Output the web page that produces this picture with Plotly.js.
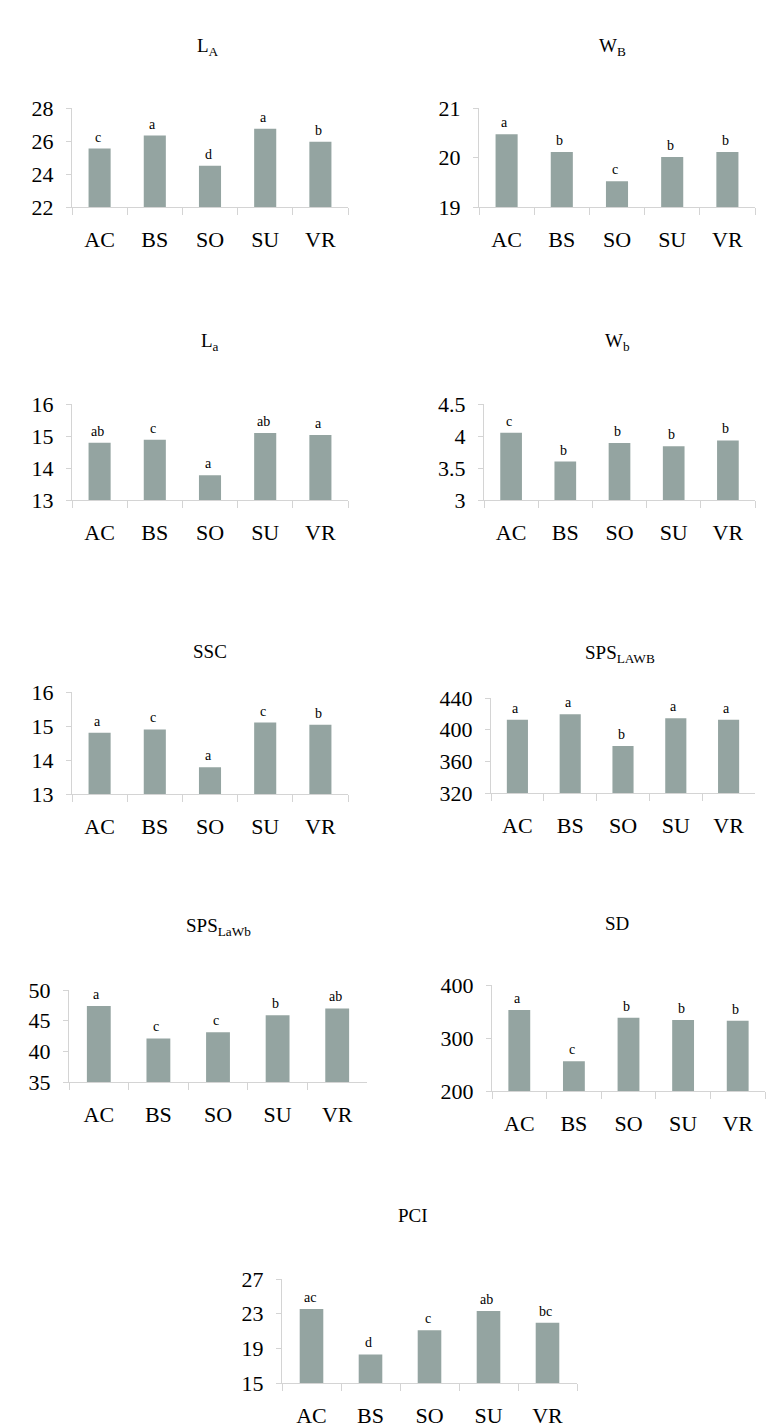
<!DOCTYPE html>
<html>
<head>
<meta charset="utf-8">
<script src="https://cdn.plot.ly/plotly-3.0.1.min.js"></script>
<style>html,body{margin:0;padding:0;background:#fff;}#chart{width:784px;height:1427px;}</style>
</head>
<body>
<div id="chart"></div>
<script>
var categories = ['AC', 'BS', 'SO', 'SU', 'VR'];

var valuesLA = [25.54, 26.33, 24.5, 26.74, 25.96];
var valuesWB = [20.47, 20.11, 19.52, 20.01, 20.11];
var valuesLa = [14.79, 14.88, 13.77, 15.09, 15.03];
var valuesWb = [4.05, 3.6, 3.89, 3.84, 3.93];
var valuesSSC = [14.8, 14.9, 13.79, 15.1, 15.04];
var valuesSPSLAWB = [412.6, 419.4, 379.4, 414.3, 412.6];
var valuesSPSLaWb = [47.4, 42.1, 43.1, 45.9, 47.0];
var valuesSD = [352.7, 256, 338, 334, 332.5];
var valuesPCI = [23.54, 18.3, 21.08, 23.3, 21.96];

var lettersLA = ['c', 'a', 'd', 'a', 'b'];
var lettersWB = ['a', 'b', 'c', 'b', 'b'];
var lettersLa = ['ab', 'c', 'a', 'ab', 'a'];
var lettersWb = ['c', 'b', 'b', 'b', 'b'];
var lettersSSC = ['a', 'c', 'a', 'c', 'b'];
var lettersSPSLAWB = ['a', 'a', 'b', 'a', 'a'];
var lettersSPSLaWb = ['a', 'c', 'c', 'b', 'ab'];
var lettersSD = ['a', 'c', 'b', 'b', 'b'];
var lettersPCI = ['ac', 'd', 'c', 'ab', 'bc'];

var titles = ['L<sub>A</sub>', 'W<sub>B</sub>', 'L<sub>a</sub>', 'W<sub>b</sub>', 'SSC',
  'SPS<sub>LAWB</sub>', 'SPS<sub>LaWb</sub>', 'SD', 'PCI'];
var yTickValues = [
  [22, 24, 26, 28], [19, 20, 21], [13, 14, 15, 16], [3, 3.5, 4, 4.5], [13, 14, 15, 16],
  [320, 360, 400, 440], [35, 40, 45, 50], [200, 300, 400], [15, 19, 23, 27]
];

var W = 784, H = 1427;
var panels = [
  {v: valuesLA, l: lettersLA, box: [72, 348, 108, 207], t: [208, 47]},
  {v: valuesWB, l: lettersWB, box: [479, 755, 108, 207], t: [612, 47]},
  {v: valuesLa, l: lettersLa, box: [72, 348, 404, 500], t: [210, 342]},
  {v: valuesWb, l: lettersWb, box: [484, 755, 404, 500], t: [617, 342]},
  {v: valuesSSC, l: lettersSSC, box: [72, 348, 692, 794], t: [210, 652]},
  {v: valuesSPSLAWB, l: lettersSPSLAWB, box: [491, 755, 698, 793], t: [620, 654]},
  {v: valuesSPSLaWb, l: lettersSPSLaWb, box: [69, 367, 990, 1082], t: [218, 927]},
  {v: valuesSD, l: lettersSD, box: [492, 765, 985, 1091], t: [617, 923]},
  {v: valuesPCI, l: lettersPCI, box: [282, 577, 1279, 1383], t: [413, 1215]}
];

var font = 'Liberation Serif';
var axisColor = '#d4d4d4';
var barColor = '#94a4a1';
var data = [], annotations = [];
var layout = {
  width: W, height: H,
  margin: {l: 0, r: 0, t: 0, b: 0},
  paper_bgcolor: '#ffffff', plot_bgcolor: 'rgba(0,0,0,0)',
  showlegend: false, bargap: 0.6,
  font: {family: font, color: '#000'}
};

panels.forEach(function (p, i) {
  var n = i + 1;
  var xa = 'xaxis' + (n === 1 ? '' : n), ya = 'yaxis' + (n === 1 ? '' : n);
  var xr = 'x' + (n === 1 ? '' : n), yr = 'y' + (n === 1 ? '' : n);
  var tv = yTickValues[i];
  data.push({
    type: 'bar', x: categories, y: p.v, xaxis: xr, yaxis: yr,
    marker: {color: barColor, line: {width: 0}}, hoverinfo: 'skip'
  });
  layout[xa] = {
    domain: [p.box[0] / W, p.box[1] / W], anchor: yr,
    type: 'category', range: [-0.5, 4.5],
    showline: true, linecolor: axisColor, linewidth: 1,
    ticks: 'outside', tickson: 'boundaries', ticklen: 7, tickcolor: axisColor,
    ticklabelstandoff: 13,
    tickfont: {family: font, size: 22, color: '#000'},
    showgrid: false, zeroline: false, fixedrange: true
  };
  layout[ya] = {
    domain: [1 - p.box[3] / H, 1 - p.box[2] / H], anchor: xr,
    range: [tv[0], tv[tv.length - 1]],
    tickvals: tv, ticktext: tv.map(String),
    showline: true, linecolor: axisColor, linewidth: 1,
    ticks: 'outside', ticklen: 5, tickcolor: axisColor,
    ticklabelstandoff: 8,
    tickfont: {family: font, size: 22, color: '#000'},
    showgrid: false, zeroline: false, fixedrange: true
  };
  annotations.push({
    xref: 'paper', yref: 'paper', x: p.t[0] / W, y: 1 - p.t[1] / H,
    xanchor: 'center', yanchor: 'middle', showarrow: false,
    text: titles[i], font: {family: font, size: 19, color: '#000'}
  });
  p.l.forEach(function (txt, j) {
    annotations.push({
      xref: xr, yref: yr, x: categories[j], y: p.v[j],
      xanchor: 'center', yanchor: 'bottom', yshift: 2, xshift: -2,
      showarrow: false, text: txt,
      font: {family: font, size: 14, color: '#000'}
    });
  });
});
layout.annotations = annotations;

Plotly.newPlot('chart', data, layout, {staticPlot: true, displayModeBar: false});
</script>
</body>
</html>
